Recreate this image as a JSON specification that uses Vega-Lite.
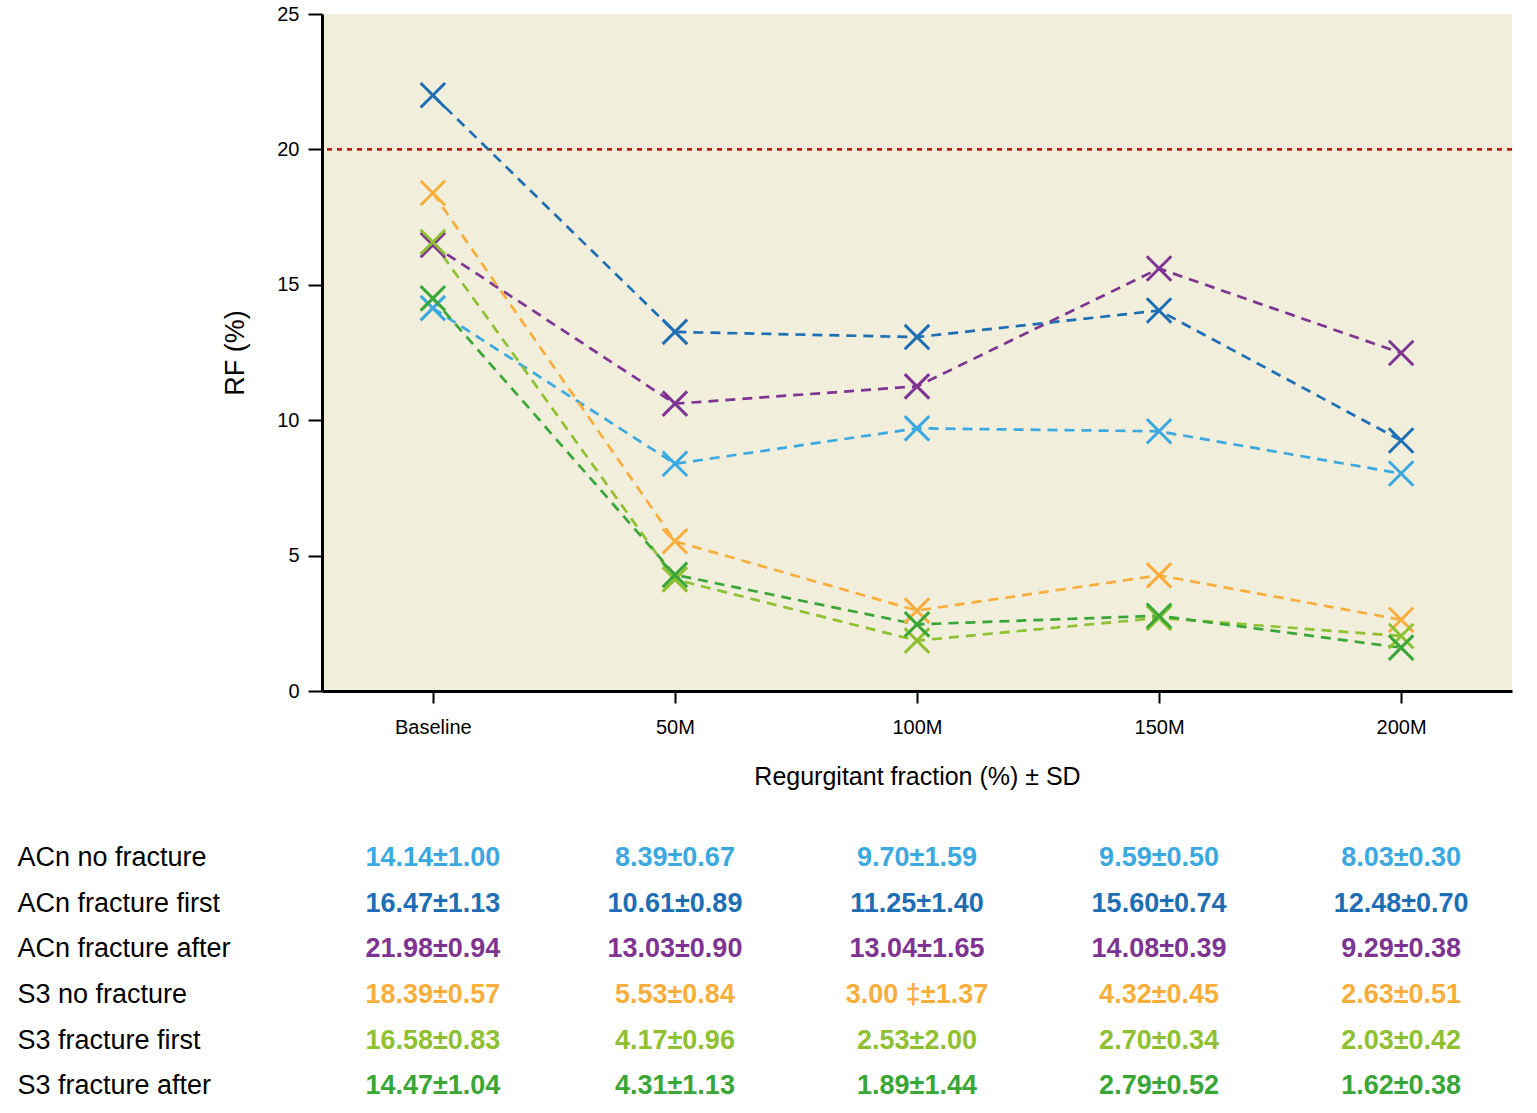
{
  "$schema": "https://vega.github.io/schema/vega-lite/v6.json",
  "padding": {"left": 17, "top": 4, "right": 5, "bottom": 5},
  "background": "white",
  "bounds": "flush",
  "spacing": 144,
  "config": {
    "font": "Liberation Sans, Arial, sans-serif",
    "view": {"stroke": null}
  },
  "datasets": {
    "lines": [
      {"series": "ACn no fracture", "time": "Baseline", "rf": 14.14},
      {"series": "ACn no fracture", "time": "50M", "rf": 8.39},
      {"series": "ACn no fracture", "time": "100M", "rf": 9.70},
      {"series": "ACn no fracture", "time": "150M", "rf": 9.59},
      {"series": "ACn no fracture", "time": "200M", "rf": 8.03},
      {"series": "ACn fracture after", "time": "Baseline", "rf": 22.0},
      {"series": "ACn fracture after", "time": "50M", "rf": 13.26},
      {"series": "ACn fracture after", "time": "100M", "rf": 13.07},
      {"series": "ACn fracture after", "time": "150M", "rf": 14.05},
      {"series": "ACn fracture after", "time": "200M", "rf": 9.25},
      {"series": "ACn fracture first", "time": "Baseline", "rf": 16.47},
      {"series": "ACn fracture first", "time": "50M", "rf": 10.61},
      {"series": "ACn fracture first", "time": "100M", "rf": 11.25},
      {"series": "ACn fracture first", "time": "150M", "rf": 15.6},
      {"series": "ACn fracture first", "time": "200M", "rf": 12.48},
      {"series": "S3 no fracture", "time": "Baseline", "rf": 18.39},
      {"series": "S3 no fracture", "time": "50M", "rf": 5.53},
      {"series": "S3 no fracture", "time": "100M", "rf": 2.97},
      {"series": "S3 no fracture", "time": "150M", "rf": 4.27},
      {"series": "S3 no fracture", "time": "200M", "rf": 2.63},
      {"series": "S3 fracture first", "time": "Baseline", "rf": 16.58},
      {"series": "S3 fracture first", "time": "50M", "rf": 4.12},
      {"series": "S3 fracture first", "time": "100M", "rf": 1.86},
      {"series": "S3 fracture first", "time": "150M", "rf": 2.7},
      {"series": "S3 fracture first", "time": "200M", "rf": 2.03},
      {"series": "S3 fracture after", "time": "Baseline", "rf": 14.5},
      {"series": "S3 fracture after", "time": "50M", "rf": 4.29},
      {"series": "S3 fracture after", "time": "100M", "rf": 2.46},
      {"series": "S3 fracture after", "time": "150M", "rf": 2.78},
      {"series": "S3 fracture after", "time": "200M", "rf": 1.6}
    ],
    "threshold": [{"rf": 20}],
    "table": [
      {"series": "ACn no fracture", "time": "Baseline", "label": "14.14±1.00"},
      {"series": "ACn no fracture", "time": "50M", "label": "8.39±0.67"},
      {"series": "ACn no fracture", "time": "100M", "label": "9.70±1.59"},
      {"series": "ACn no fracture", "time": "150M", "label": "9.59±0.50"},
      {"series": "ACn no fracture", "time": "200M", "label": "8.03±0.30"},
      {"series": "ACn fracture first", "time": "Baseline", "label": "16.47±1.13"},
      {"series": "ACn fracture first", "time": "50M", "label": "10.61±0.89"},
      {"series": "ACn fracture first", "time": "100M", "label": "11.25±1.40"},
      {"series": "ACn fracture first", "time": "150M", "label": "15.60±0.74"},
      {"series": "ACn fracture first", "time": "200M", "label": "12.48±0.70"},
      {"series": "ACn fracture after", "time": "Baseline", "label": "21.98±0.94"},
      {"series": "ACn fracture after", "time": "50M", "label": "13.03±0.90"},
      {"series": "ACn fracture after", "time": "100M", "label": "13.04±1.65"},
      {"series": "ACn fracture after", "time": "150M", "label": "14.08±0.39"},
      {"series": "ACn fracture after", "time": "200M", "label": "9.29±0.38"},
      {"series": "S3 no fracture", "time": "Baseline", "label": "18.39±0.57"},
      {"series": "S3 no fracture", "time": "50M", "label": "5.53±0.84"},
      {"series": "S3 no fracture", "time": "100M", "label": "3.00 ‡±1.37"},
      {"series": "S3 no fracture", "time": "150M", "label": "4.32±0.45"},
      {"series": "S3 no fracture", "time": "200M", "label": "2.63±0.51"},
      {"series": "S3 fracture first", "time": "Baseline", "label": "16.58±0.83"},
      {"series": "S3 fracture first", "time": "50M", "label": "4.17±0.96"},
      {"series": "S3 fracture first", "time": "100M", "label": "2.53±2.00"},
      {"series": "S3 fracture first", "time": "150M", "label": "2.70±0.34"},
      {"series": "S3 fracture first", "time": "200M", "label": "2.03±0.42"},
      {"series": "S3 fracture after", "time": "Baseline", "label": "14.47±1.04"},
      {"series": "S3 fracture after", "time": "50M", "label": "4.31±1.13"},
      {"series": "S3 fracture after", "time": "100M", "label": "1.89±1.44"},
      {"series": "S3 fracture after", "time": "150M", "label": "2.79±0.52"},
      {"series": "S3 fracture after", "time": "200M", "label": "1.62±0.38"}
    ]
  },
  "resolve": {"scale": {"color": "independent", "x": "independent", "y": "independent"}},
  "vconcat": [
    {
      "width": 1190,
      "height": 677,
      "view": {"fill": "#f1eedb", "stroke": null},
      "encoding": {
        "y": {
          "field": "rf", "type": "quantitative",
          "scale": {"domain": [0, 25], "nice": false},
          "axis": {
            "title": "RF (%)",
            "titleFontSize": 27, "titleFontWeight": "normal", "titleColor": "black", "titlePadding": 27,
            "values": [0, 5, 10, 15, 20, 25],
            "labelFontSize": 20, "labelColor": "black", "labelPadding": 9,
            "tickSize": 14, "tickWidth": 2, "tickColor": "black",
            "domainColor": "black", "domainWidth": 3, "grid": false
          }
        }
      },
      "layer": [
        {
          "data": {"name": "threshold"},
          "mark": {"type": "rule", "color": "#b5221c", "strokeWidth": 2.6, "strokeDash": [5, 5]},
          "encoding": {}
        },
        {
          "data": {"name": "lines"},
          "mark": {"type": "line", "strokeWidth": 2.7, "strokeDash": [10, 7]},
          "encoding": {
            "x": {
              "field": "time", "type": "ordinal",
              "sort": ["Baseline", "50M", "100M", "150M", "200M"],
              "scale": {"type": "point", "padding": 0.458},
              "axis": {
                "title": "Regurgitant fraction (%) ± SD",
                "titleFontSize": 25, "titleFontWeight": "normal", "titleColor": "black", "titlePadding": 27,
                "labelFontSize": 20, "labelColor": "black", "labelAngle": 0, "labelPadding": 14,
                "tickSize": 12, "tickWidth": 2, "tickColor": "black",
                "domainColor": "black", "domainWidth": 3, "grid": false
              }
            },
            "color": {
              "field": "series", "type": "nominal",
              "scale": {
                "domain": ["ACn no fracture", "ACn fracture first", "ACn fracture after", "S3 no fracture", "S3 fracture first", "S3 fracture after"],
                "range": ["#3ba9e0", "#7d3591", "#1e6eb4", "#f8ae3c", "#8fc031", "#3aa637"]
              },
              "legend": null
            },
            "detail": {"field": "series"}
          }
        },
        {
          "data": {"name": "lines"},
          "mark": {"type": "point", "shape": "M-1,-1L1,1M-1,1L1,-1", "size": 600, "filled": false, "strokeWidth": 3, "opacity": 1},
          "encoding": {
            "x": {"field": "time", "type": "ordinal", "sort": ["Baseline", "50M", "100M", "150M", "200M"]},
            "color": {"field": "series", "type": "nominal"}
          }
        }
      ]
    },
    {
      "width": 1190,
      "height": 274,
      "data": {"name": "table"},
      "mark": {"type": "text", "fontSize": 27, "fontWeight": "bold", "align": "center", "baseline": "middle"},
      "encoding": {
        "x": {
          "field": "time", "type": "ordinal",
          "sort": ["Baseline", "50M", "100M", "150M", "200M"],
          "scale": {"type": "point", "padding": 0.458},
          "axis": null
        },
        "y": {
          "field": "series", "type": "nominal",
          "sort": ["ACn no fracture", "ACn fracture first", "ACn fracture after", "S3 no fracture", "S3 fracture first", "S3 fracture after"],
          "scale": {"type": "band", "paddingInner": 0, "paddingOuter": 0},
          "axis": {
            "title": null, "domain": false, "ticks": false, "grid": false,
            "labelAlign": "left", "labelBaseline": "middle", "labelPadding": 305,
            "labelFontSize": 27, "labelColor": "black", "labelLimit": 400
          }
        },
        "text": {"field": "label"},
        "color": {
          "field": "series", "type": "nominal",
          "scale": {
            "domain": ["ACn no fracture", "ACn fracture first", "ACn fracture after", "S3 no fracture", "S3 fracture first", "S3 fracture after"],
            "range": ["#3ba9e0", "#1e6eb4", "#7d3591", "#f8ae3c", "#8fc031", "#3aa637"]
          },
          "legend": null
        }
      }
    }
  ]
}
